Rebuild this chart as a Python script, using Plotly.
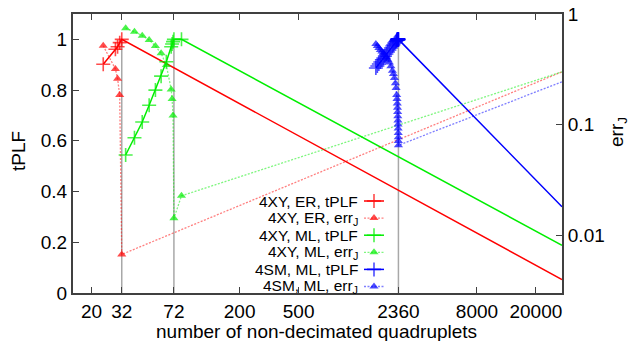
import plotly.graph_objects as go
import math

# ---------------- data ----------------
x_tick_vals = [20, 32, 72, 200, 500, 2360, 8000, 20000]
y_tick_vals = [0, 0.2, 0.4, 0.6, 0.8, 1]
y_tick_text = ["0", "0.2", "0.4", "0.6", "0.8", "1"]
y2_tick_vals = [0.01, 0.1, 1]
y2_tick_text = ["0.01", "0.1", "1"]

optimal_x = [32, 72, 2360]

red_x = [24, 29, 30, 31, 32, 30000]
red_tplf = [0.902, 0.961, 0.971, 0.987, 1.0, 0.053]
red_err = [0.516, 0.318, 0.26, 0.185, 0.0067, 0.30]

green_x = [34, 39, 44, 49, 54, 59, 64, 69, 70, 71, 72, 81, 30000]
green_tplf = [0.544, 0.612, 0.674, 0.740, 0.800, 0.855, 0.912, 0.971, 0.982, 0.991, 1.0, 1.0, 0.188]
green_err = [0.743, 0.691, 0.637, 0.582, 0.513, 0.441, 0.345, 0.208, 0.170, 0.121, 0.0142, 0.0227, 0.30]

blue_x = [1662, 1701, 1741, 1782, 1825, 1868, 1912, 1957, 2003, 2051, 2099, 2149, 2183,
          2217, 2251, 2276, 2297, 2308, 2318, 2325, 2331, 2337, 2342, 2346, 2350, 2353,
          2356, 2358, 2360, 30000]
blue_tplf = [0.887, 0.895, 0.903, 0.911, 0.919, 0.926, 0.934, 0.942, 0.950, 0.958, 0.966, 0.974,
             0.979, 0.985, 0.990, 0.993, 0.996, 0.998, 1.0, 1.0, 1.0, 1.0, 1.0, 1.0, 1.0, 1.0,
             1.0, 1.0, 1.0, 0.34]
blue_err = [0.535, 0.513, 0.493, 0.472, 0.458, 0.441, 0.423, 0.406, 0.386, 0.364, 0.337, 0.306,
            0.286, 0.264, 0.237, 0.214, 0.185, 0.170, 0.155, 0.142, 0.130, 0.119, 0.109, 0.100,
            0.092, 0.084, 0.077, 0.071, 0.065, 0.244]

legend_labels = ["4XY, ER, tPLF", "4XY, ER, err<sub>J</sub>",
                 "4XY, ML, tPLF", "4XY, ML, err<sub>J</sub>",
                 "4SM, ML, tPLF", "4SM, ML, err<sub>J</sub>"]

x_title = "number of non-decimated quadruplets"
y_title = "tPLF"
y2_title = "err<sub>J</sub>"

# ---------------- style ----------------
W, H = 632, 341
ML, MR, MT, MB = 73, 70, 14, 48
FONT = "Liberation Sans, Arial, sans-serif"
TICK_FS = 19
BORDER = "#404040"
GREY = "#a8a8a8"
RED, GREEN, BLUE = "#ff0000", "#00ee00", "#0000ff"
RED_L, GREEN_L, BLUE_L = "rgba(255,0,0,0.5)", "rgba(0,238,0,0.5)", "rgba(0,0,255,0.5)"
ERR_DASH = "2px,1.5px"

pw = W - ML - MR
ph = H - MT - MB


def px_to_paper_x(px):
    return (px - ML) / pw


def px_to_paper_y(py):
    return (H - MB - py) / ph


fig = go.Figure()

# grey vertical guide lines at optimal points
for xv in optimal_x:
    fig.add_trace(go.Scatter(x=[xv, xv], y=[0, 1], mode="lines",
                             line=dict(color=GREY, width=1.5), yaxis="y", showlegend=False,
                             hoverinfo="skip"))


def sizes(n, s):
    return [s] * (n - 1) + [0]


series = [
    (red_x, red_tplf, red_err, RED, RED_L),
    (green_x, green_tplf, green_err, GREEN, GREEN_L),
    (blue_x, blue_tplf, blue_err, BLUE, BLUE_L),
]

for xs, tp, er, col, col_l in series:
    fig.add_trace(go.Scatter(
        x=xs, y=er, mode="lines+markers", yaxis="y2",
        line=dict(color=col_l, width=1.3, dash=ERR_DASH),
        marker=dict(symbol="triangle-up", size=sizes(len(xs), 8), color=col, line=dict(width=0)),
        showlegend=False))
    fig.add_trace(go.Scatter(
        x=xs, y=tp, mode="lines+markers", yaxis="y",
        line=dict(color=col, width=1.5),
        marker=dict(symbol="cross-thin", size=sizes(len(xs), 10), color=col,
                    line=dict(color=col, width=1.6)),
        showlegend=False))

# ---------------- manual gnuplot-style key ----------------
text_right_px = 360
sample_x0_px, sample_x1_px = 364, 384
row0_px, row_step = 201, 17.1
key_colors = [RED, RED_L, GREEN, GREEN_L, BLUE, BLUE_L]
key_marker_colors = [RED, RED, GREEN, GREEN, BLUE, BLUE]

annotations = []
for i, lab in enumerate(legend_labels):
    ypx = row0_px + i * row_step
    yp = px_to_paper_y(ypx)
    annotations.append(dict(
        text=lab, xref="paper", yref="paper",
        x=px_to_paper_x(text_right_px), y=yp, xanchor="right", yanchor="middle",
        showarrow=False, font=dict(family=FONT, size=15.5, color="#000000")))
    is_err = i % 2 == 1
    x0 = px_to_paper_x(sample_x0_px)
    x1 = px_to_paper_x(sample_x1_px)
    xc = (x0 + x1) / 2
    mc = key_marker_colors[i]
    fig.add_trace(go.Scatter(
        x=[x0, xc, x1], y=[yp, yp, yp], xaxis="x3", yaxis="y3", mode="lines+markers",
        line=dict(color=key_colors[i], width=1.3 if is_err else 1.5,
                  dash=ERR_DASH if is_err else "solid"),
        marker=dict(symbol="triangle-up" if is_err else "cross-thin",
                    size=[0, 8, 0] if is_err else [0, 10, 0], color=mc,
                    line=dict(color=mc, width=0 if is_err else 1.6)),
        showlegend=False, hoverinfo="skip"))

# axis titles as annotations (exact placement)
annotations.append(dict(text=x_title, xref="paper", yref="paper",
                        x=px_to_paper_x(316), y=px_to_paper_y(331),
                        xanchor="center", yanchor="middle", showarrow=False,
                        font=dict(family=FONT, size=TICK_FS)))
annotations.append(dict(text=y_title, xref="paper", yref="paper", textangle=-90,
                        x=px_to_paper_x(18), y=px_to_paper_y(151),
                        xanchor="center", yanchor="middle", showarrow=False,
                        font=dict(family=FONT, size=TICK_FS)))
annotations.append(dict(text=y2_title, xref="paper", yref="paper", textangle=-90,
                        x=px_to_paper_x(618), y=px_to_paper_y(132),
                        xanchor="center", yanchor="middle", showarrow=False,
                        font=dict(family=FONT, size=TICK_FS)))

axis_common = dict(ticks="inside", ticklen=6, tickcolor=BORDER, tickwidth=1,
                   showline=True, linecolor=BORDER, linewidth=2,
                   showgrid=False, zeroline=False, automargin=False,
                   tickfont=dict(size=TICK_FS))

fig.update_layout(
    width=W, height=H,
    margin=dict(l=ML, r=MR, t=MT, b=MB, autoexpand=False),
    paper_bgcolor="white", plot_bgcolor="white",
    font=dict(family=FONT, size=TICK_FS, color="#000000"),
    showlegend=False,
    annotations=annotations,
    xaxis=dict(
        type="log", range=[math.log10(15), math.log10(30000)],
        tickvals=x_tick_vals, ticktext=[str(v) for v in x_tick_vals],
        mirror="ticks", **axis_common),
    yaxis=dict(
        range=[0, 1.1], tickvals=y_tick_vals, ticktext=y_tick_text,
        **axis_common),
    yaxis2=dict(
        type="log", range=[math.log10(0.003), 0], overlaying="y", side="right",
        tickvals=y2_tick_vals, ticktext=y2_tick_text,
        **axis_common),
    xaxis3=dict(domain=[0, 1], range=[0, 1], overlaying="x", anchor="y3", visible=False),
    yaxis3=dict(domain=[0, 1], range=[0, 1], overlaying="y", anchor="x3", visible=False),
)

fig.write_html("out.html")
